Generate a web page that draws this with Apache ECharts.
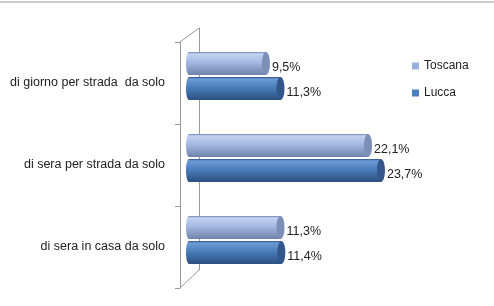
<!DOCTYPE html>
<html><head><meta charset="utf-8">
<script src="https://cdn.jsdelivr.net/npm/echarts@6/dist/echarts.min.js"></script>
<style>html,body{margin:0;padding:0;background:#fff}#c{width:494px;height:306px}</style>
</head><body><div id="c"></div>
<script>
const categories = ["di giorno per strada  da solo", "di sera per strada da solo", "di sera in casa da solo"];
const toscana = [9.5, 22.1, 11.3];
const lucca = [11.3, 23.7, 11.4];
const seriesNames = ["Toscana", "Lucca"];

const font = '"Liberation Sans", "DejaVu Sans", sans-serif';
const X_MIN = -0.86, X_MAX = 30;
const BAR_H = 23, GAP = 2, CAP_RX = 4;
const styles = [
  {top: '#c4d3f1', mid: '#a3b8e3', bot: '#6f82aa', cap: '#7c8fb6', legend: '#9ab1df'},
  {top: '#6d9bd6', mid: '#4a7ebb', bot: '#2b4f80', cap: '#33578a', legend: '#4a7ebb'}
];
const fmt = v => v.toFixed(1).replace('.', ',') + '%';

function makeRender(si) {
  return function (params, api) {
    const ci = api.value(0), v = api.value(1);
    const c = api.coord([X_MIN, ci]);
    const end = api.coord([v, ci])[0];
    const yTop = si === 0 ? c[1] - BAR_H - GAP / 2 : c[1] + GAP / 2;
    const st = styles[si];
    const fill = new echarts.graphic.LinearGradient(0, 0, 0, 1, [
      {offset: 0, color: st.bot}, {offset: 0.08, color: st.top},
      {offset: 0.45, color: st.mid}, {offset: 1, color: st.bot}
    ]);
    const x0 = c[0];
    const bodyEnd = end - CAP_RX;
    return {
      type: 'group',
      children: [
        {type: 'ellipse', shape: {cx: x0 + 3, cy: yTop + BAR_H / 2, rx: 3, ry: BAR_H / 2}, style: {fill: fill}},
        {type: 'rect', shape: {x: x0 + 3, y: yTop, width: bodyEnd - x0 - 3, height: BAR_H}, style: {fill: fill}},
        {type: 'ellipse', shape: {cx: bodyEnd, cy: yTop + BAR_H / 2, rx: CAP_RX, ry: BAR_H / 2},
         style: {fill: st.cap}},
        {type: 'text', x: end + 2, y: yTop + BAR_H / 2 + 4,
         style: {text: fmt(v), fill: '#222', font: '12.5px ' + font, verticalAlign: 'middle', align: 'left'}}
      ]
    };
  };
}

const chart = echarts.init(document.getElementById('c'));
chart.setOption({
  animation: false,
  textStyle: {fontFamily: font},
  legend: {
    data: [{name: 'Toscana', itemStyle: {color: styles[0].legend}}, {name: 'Lucca', itemStyle: {color: styles[1].legend}}],
    orient: 'vertical', left: 407, top: 55,
    itemWidth: 7, itemHeight: 7, itemGap: 15, icon: 'rect',
    textStyle: {fontSize: 12, color: '#222', fontFamily: font}
  },
  grid: [
    {left: 186, top: 35, bottom: 25, width: 250},
    {left: 180, top: 42, bottom: 18, width: 200},
    {left: 199, top: 28, bottom: 36, width: 200}
  ],
  xAxis: [
    {gridIndex: 0, type: 'value', min: X_MIN, max: X_MAX, show: false},
    {gridIndex: 1, type: 'value', min: 0, max: 30, show: false},
    {gridIndex: 2, type: 'value', min: 0, max: 30, show: false}
  ],
  yAxis: [
    {gridIndex: 0, type: 'category', data: categories, inverse: true, show: false},
    {gridIndex: 1, type: 'category', data: categories, inverse: true,
     axisLine: {show: true, lineStyle: {color: '#999'}},
     axisTick: {show: true, length: 5, lineStyle: {color: '#999'}},
     axisLabel: {fontSize: 12.5, color: '#222', margin: 15, fontFamily: font}},
    {gridIndex: 2, type: 'category', data: categories, inverse: true,
     axisLine: {show: true, lineStyle: {color: '#999'}},
     axisTick: {show: false}, axisLabel: {show: false}}
  ],
  graphic: [
    {type: 'line', shape: {x1: 0, y1: 2, x2: 494, y2: 2}, style: {stroke: '#999', lineWidth: 1}},
    {type: 'line', shape: {x1: 180, y1: 42, x2: 199, y2: 28}, style: {stroke: '#999', lineWidth: 1}},
    {type: 'line', shape: {x1: 180, y1: 288, x2: 199, y2: 270}, style: {stroke: '#999', lineWidth: 1}}
  ],
  series: seriesNames.map((name, si) => ({
    name: name, type: 'custom', xAxisIndex: 0, yAxisIndex: 0,
    itemStyle: {color: styles[si].legend},
    encode: {x: 1, y: 0},
    data: (si === 0 ? toscana : lucca).map((v, i) => [i, v]),
    renderItem: makeRender(si)
  }))
});
</script></body></html>
